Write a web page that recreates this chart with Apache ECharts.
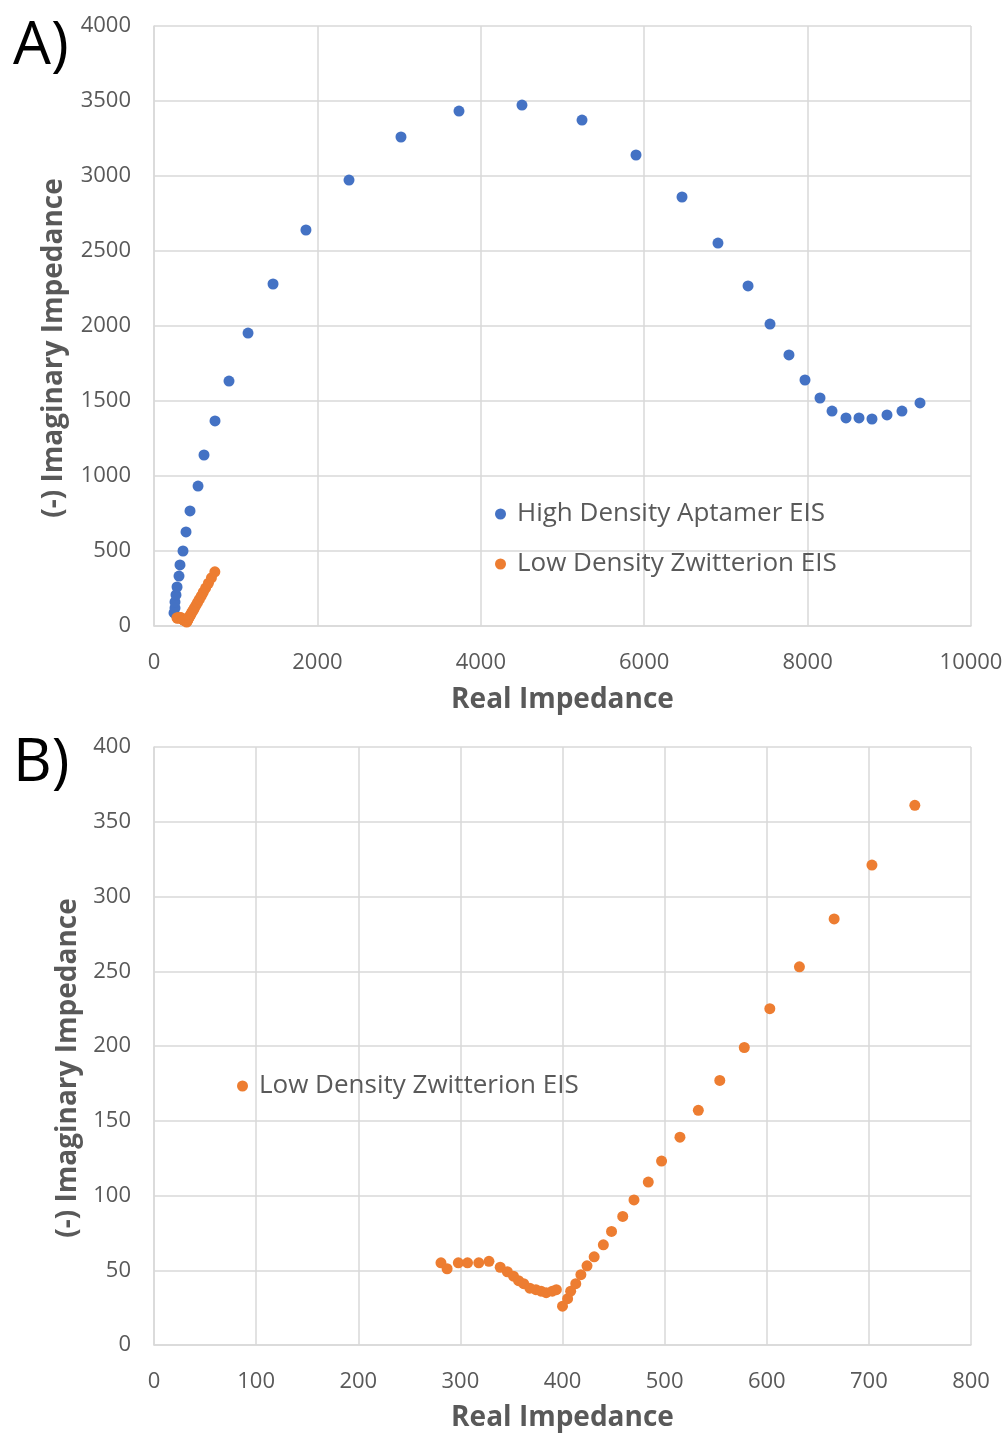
<!DOCTYPE html>
<html>
<head>
<meta charset="utf-8">
<script src="https://cdn.jsdelivr.net/npm/echarts@6/dist/echarts.min.js"></script>
<style>
html,body{margin:0;padding:0;background:#fff;}
#chart{width:1008px;height:1433px;}
</style>
</head>
<body>
<div id="chart"></div>
<script>
// High Density Aptamer EIS (panel A)
const highX = [245, 257, 257, 269, 282, 306, 318, 355, 392, 441, 539, 612, 747, 918, 1151, 1457, 1860, 2387, 3023, 3733, 4504, 5239, 5900, 6463, 6903, 7271, 7540, 7772, 7968, 8152, 8299, 8470, 8629, 8788, 8972, 9155, 9376];
const highY = [87, 120, 160, 207, 260, 333, 407, 500, 627, 767, 933, 1140, 1367, 1633, 1953, 2280, 2640, 2973, 3260, 3433, 3473, 3373, 3140, 2860, 2553, 2267, 2013, 1807, 1640, 1520, 1433, 1387, 1387, 1380, 1407, 1433, 1487];
// Low Density Zwitterion EIS (panels A and B)
const lowX = [281, 287, 298, 307, 318, 328, 339, 346, 352, 357, 362, 368, 374, 379, 384, 390, 394, 400, 405, 408, 413, 418, 424, 431, 440, 448, 459, 470, 484, 497, 515, 533, 554, 578, 603, 632, 666, 703, 745];
const lowY = [55, 51, 55, 55, 55, 56, 52, 49, 46, 43, 41, 38, 37, 36, 35, 36, 37, 26, 31, 36, 41, 47, 53, 59, 67, 76, 86, 97, 109, 123, 139, 157, 177, 199, 225, 253, 285, 321, 361];
// axis ticks
const xTicksA = {min: 0, max: 10000, interval: 2000};
const yTicksA = {min: 0, max: 4000, interval: 500};
const xTicksB = {min: 0, max: 800, interval: 100};
const yTicksB = {min: 0, max: 400, interval: 50};

const nameHigh = 'High Density Aptamer EIS';
const nameLow = 'Low Density Zwitterion EIS';
const BLUE = '#4472C4', ORANGE = '#ED7D31';
const GRID = '#d9d9d9', TXT = '#595959';
const FONT = 'Open Sans';

function pairs(xs, ys){ return xs.map((x,i)=>[x, ys[i]]); }
const plain = v => String(v);

function xAx(idx, t, gap){
  return Object.assign({
    type:'value', gridIndex: idx,
    name:'Real Impedance', nameLocation:'middle', nameGap:gap,
    nameTextStyle:{fontFamily:FONT, fontSize:28, fontWeight:'bold', color:TXT},
    axisLine:{show:true, lineStyle:{color:GRID, width:1.5}},
    axisTick:{show:false},
    splitLine:{show:true, lineStyle:{color:GRID, width:1.5}},
    axisLabel:{fontFamily:FONT, fontSize:22, color:TXT, margin:26, formatter:plain}
  }, t);
}
function yAx(idx, t, gap){
  return Object.assign({
    type:'value', gridIndex: idx,
    name:'(-) Imaginary Impedance', nameLocation:'middle', nameGap:gap,
    nameTextStyle:{fontFamily:FONT, fontSize:28, fontWeight:'bold', color:TXT, padding:[0,44,0,0]},
    axisLine:{show:true, lineStyle:{color:GRID, width:1.5}},
    axisTick:{show:false},
    splitLine:{show:true, lineStyle:{color:GRID, width:1.5}},
    axisLabel:{fontFamily:FONT, fontSize:22, color:TXT, margin:23, formatter:plain}
  }, t);
}

const chart = echarts.init(document.getElementById('chart'), null, {renderer:'canvas'});
chart.setOption({
  backgroundColor:'#fff',
  animation:false,
  grid:[
    {left:154, top:26, width:817, height:600},
    {left:154, top:747, width:817, height:600}
  ],
  xAxis:[xAx(0, xTicksA, 60), xAx(1, xTicksB, 59)],
  yAxis:[yAx(0, yTicksA, 86), yAx(1, yTicksB, 72)],
  legend:[
    {data:[nameHigh, nameLow], orient:'vertical', left:490, top:493,
     icon:'circle', itemWidth:11, itemHeight:11, itemGap:18,
     textStyle:{fontFamily:FONT, fontSize:26, color:TXT, lineHeight:32, padding:[0,0,0,6]}},
    {data:[nameLow], orient:'vertical', left:232, top:1065,
     icon:'circle', itemWidth:11, itemHeight:11,
     textStyle:{fontFamily:FONT, fontSize:26, color:TXT, lineHeight:32, padding:[0,0,0,6]}}
  ],
  series:[
    {name:nameHigh, type:'scatter', xAxisIndex:0, yAxisIndex:0, symbolSize:11,
     itemStyle:{color:BLUE, opacity:1}, data:pairs(highX, highY)},
    {name:nameLow, type:'scatter', xAxisIndex:0, yAxisIndex:0, symbolSize:11,
     itemStyle:{color:ORANGE, opacity:1}, data:pairs(lowX, lowY)},
    {name:nameLow, type:'scatter', xAxisIndex:1, yAxisIndex:1, symbolSize:11,
     itemStyle:{color:ORANGE, opacity:1}, data:pairs(lowX, lowY)}
  ],
  graphic:[
    {type:'text', left:13, top:17, style:{text:'A)', fontFamily:FONT, fontSize:60, fill:'#000'}},
    {type:'text', left:13, top:734, style:{text:'B)', fontFamily:FONT, fontSize:60, fill:'#000'}}
  ]
});
</script>
</body>
</html>
